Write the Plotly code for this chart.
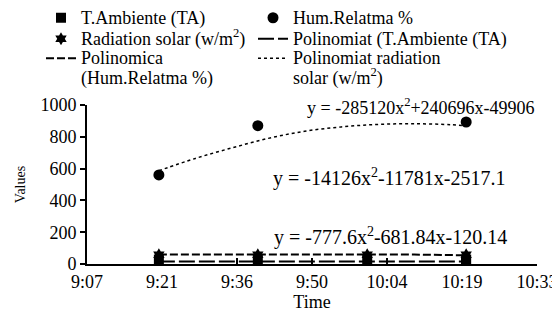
import plotly.graph_objects as go

# ---- data ----
times = ["9:21", "9:40", "10:01", "10:20"]
t_ambiente = [28, 28, 28, 28]
hum_relatma = [560, 870, None, 893]
radiation = [58, 58, 58, 58]

poly_ta_times = ["9:21", "9:40", "10:01", "10:20"]
poly_ta = [16, 16, 16, 16]

poly_hum_times = ["9:21", "9:40", "10:01", "10:10", "10:20"]
poly_hum = [60, 60, 60, 59, 55]

poly_rad_times = ["9:21", "9:28", "9:35", "9:42", "9:49", "9:56", "10:03", "10:10", "10:17", "10:20"]
poly_rad = [587, 664, 730, 790, 835, 862, 878, 882, 876, 868]

x_tick_vals = [0.38, 0.39, 0.40, 0.41, 0.42, 0.43, 0.44]
x_tick_text = ["9:07", "9:21", "9:36", "9:50", "10:04", "10:19", "10:33"]
y_tick_vals = [0, 200, 400, 600, 800, 1000]

eq_texts = ["y = -285120x<sup>2</sup>+240696x-49906",
            "y = -14126x<sup>2</sup>-11781x-2517.1",
            "y = -777.6x<sup>2</sup>-681.84x-120.14"]
eq_sizes = [18, 20, 20]
eq_x = [0.42453, 0.42027, 0.4204]
eq_y = [992, 541, 170]


def to_day(s):
    h, m = s.split(":")
    return (int(h) * 60 + int(m)) / 1440.0


def lg(*lines):
    return "<br>".join('<span style="font-size:18px">%s</span>' % l for l in lines)


FONT = "Liberation Serif, Times New Roman, serif"
OFF = 8  # page body margin offset
W, H = 560, 315
ML, MR, MT, MB = 12, 31, 0, 59
PW, PH = W - ML - MR, H - MT - MB


def px_x(p):  # page pixel -> paper fraction
    return (p - OFF - ML) / PW


def px_y(p):
    return 1 - (p - OFF - MT) / PH


fig = go.Figure()
fig.add_trace(go.Scatter(x=[to_day(t) for t in times], y=t_ambiente, mode="markers",
                         name=lg("T.Ambiente (TA)"), legend="legend",
                         marker=dict(symbol="square", size=10, color="black")))
fig.add_trace(go.Scatter(x=[to_day(t) for t in times], y=hum_relatma, mode="markers",
                         name=lg("Hum.Relatma %"), legend="legend2",
                         marker=dict(symbol="circle", size=11, color="black")))
fig.add_trace(go.Scatter(x=[to_day(t) for t in times], y=radiation, mode="markers",
                         name=lg("Radiation solar (w/m<sup>2</sup>)"), legend="legend3",
                         marker=dict(symbol="hexagram", size=10, color="black")))
fig.add_trace(go.Scatter(x=[to_day(t) for t in poly_ta_times], y=poly_ta, mode="lines",
                         name=lg("Polinomiat (T.Ambiente (TA)"), legend="legend4",
                         line=dict(color="black", width=2, dash="16px,4px")))
fig.add_trace(go.Scatter(x=[to_day(t) for t in poly_hum_times], y=poly_hum, mode="lines",
                         name=lg("Polinomica", "(Hum.Relatma %)"), legend="legend5",
                         line=dict(color="black", width=2, dash="8px,3px")))
fig.add_trace(go.Scatter(x=[to_day(t) for t in poly_rad_times], y=poly_rad, mode="lines",
                         name=lg("Polinomiat radiation", "solar (w/m<sup>2</sup>)"), legend="legend6",
                         line=dict(color="black", width=1.5, dash="dot", shape="spline")))

for txt, ex, ey, fs in zip(eq_texts, eq_x, eq_y, eq_sizes):
    fig.add_annotation(x=ex, y=ey, xref="x", yref="y", text=txt, showarrow=False,
                       font=dict(family=FONT, size=fs, color="black"))

leg_common = dict(orientation="v", xanchor="left", yanchor="middle",
                  font=dict(family=FONT, size=15, color="black"),
                  bgcolor="rgba(0,0,0,0)", itemwidth=30, tracegroupgap=0, valign="top")

COL1, COL2 = 41, 253
ROW1, ROW2, ROW3 = 18, 39, 68

fig.update_layout(
    width=W, height=H,
    margin=dict(l=ML, r=MR, t=MT, b=MB, autoexpand=False),
    paper_bgcolor="white", plot_bgcolor="white",
    font=dict(family=FONT, color="black", size=17),
    showlegend=True,
    legend=dict(x=px_x(COL1), y=px_y(ROW1), **leg_common),
    legend2=dict(x=px_x(COL2), y=px_y(ROW1), **leg_common),
    legend3=dict(x=px_x(COL1), y=px_y(ROW2), **leg_common),
    legend4=dict(x=px_x(COL2), y=px_y(ROW2), **leg_common),
    legend5=dict(x=px_x(COL1), y=px_y(ROW3), **leg_common),
    legend6=dict(x=px_x(COL2), y=px_y(ROW3), **leg_common),
    xaxis=dict(range=[0.38, 0.44], tickvals=x_tick_vals, ticktext=x_tick_text,
               domain=[px_x(87), px_x(537)], automargin=False,
               showgrid=False, zeroline=False, showline=True, linecolor="black",
               linewidth=2, ticks="inside", ticklen=6, tickwidth=2, tickcolor="black",
               tickfont=dict(family=FONT, size=18, color="black"),
               title=dict(text="Time", font=dict(family=FONT, size=18, color="black"), standoff=0)),
    yaxis=dict(range=[0, 1000], tickvals=y_tick_vals,
               domain=[px_y(264), px_y(105)], automargin=False,
               showgrid=False, zeroline=False, showline=True, linecolor="black",
               linewidth=2, ticks="outside", ticklen=5, tickwidth=2, tickcolor="black",
               tickfont=dict(family=FONT, size=18, color="black"),
               title=dict(text="Values", font=dict(family=FONT, size=14, color="black"), standoff=12)),
)

fig.write_html("out.html")
